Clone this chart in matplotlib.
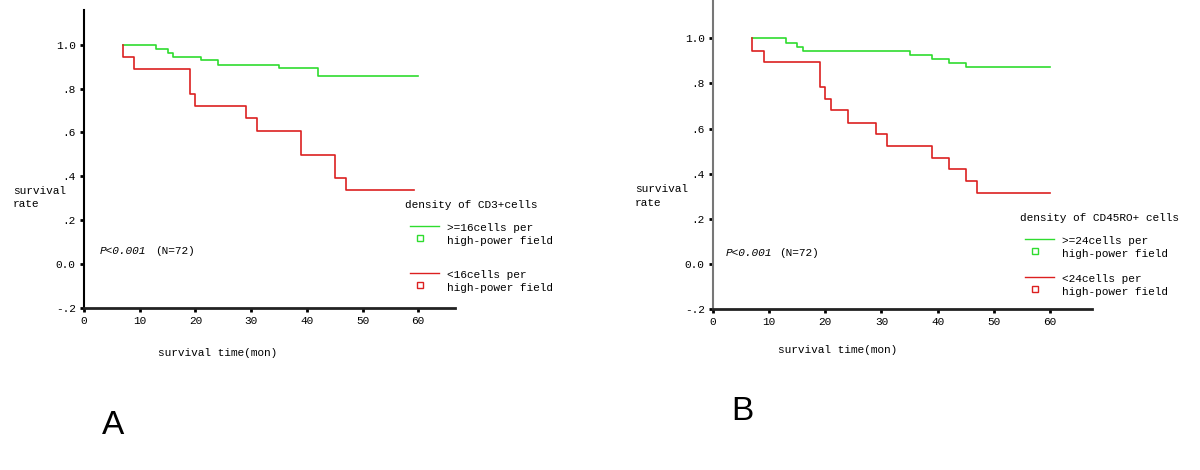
import matplotlib
matplotlib.use("Agg")
import matplotlib.pyplot as plt
from matplotlib.lines import Line2D

W, H = 1200, 470

# panel A - density of CD3+ cells (time in months, survival rate)
a_hi_t = [7, 13, 15, 16, 21, 24, 35, 42, 60]
a_hi_s = [1.0, 0.979, 0.964, 0.942, 0.929, 0.909, 0.892, 0.856, 0.856]
a_lo_t = [7, 7, 9, 19, 20, 29, 31, 39, 45, 47, 59.3]
a_lo_s = [1.0, 0.942, 0.888, 0.774, 0.719, 0.664, 0.606, 0.496, 0.392, 0.336, 0.336]

# panel B - density of CD45RO+ cells
b_hi_t = [7, 13, 15, 16, 35, 39, 42, 45, 60]
b_hi_s = [1.0, 0.98, 0.963, 0.945, 0.924, 0.908, 0.889, 0.872, 0.872]
b_lo_t = [7, 7, 9, 19, 20, 21, 24, 29, 31, 39, 42, 45, 47, 60]
b_lo_s = [1.0, 0.944, 0.893, 0.784, 0.733, 0.684, 0.625, 0.576, 0.524, 0.469, 0.42, 0.369, 0.314, 0.314]

yticks = [-0.2, 0.0, 0.2, 0.4, 0.6, 0.8, 1.0]
ytick_labels = ["-.2", "0.0", ".2", ".4", ".6", ".8", "1.0"]
xticks = [0, 10, 20, 30, 40, 50, 60]

GREEN = "#2fdc2f"
RED = "#dc2020"

plt.rcParams["font.family"] = ["Liberation Mono", "DejaVu Sans Mono"]
plt.rcParams["font.size"] = 8

fig = plt.figure(figsize=(W / 100, H / 100), dpi=100)


def px(x, y):
    return x / W, 1 - y / H


def make_axes(left, right, top, bottom, xmax, ymax, spine_col):
    ax = fig.add_axes([left / W, 1 - bottom / H, (right - left) / W, (bottom - top) / H])
    ax.set_xlim(0, xmax)
    ax.set_ylim(-0.2, ymax)
    for s in ["top", "right"]:
        ax.spines[s].set_visible(False)
    ax.spines["left"].set_color(spine_col)
    ax.spines["left"].set_linewidth(1.5)
    ax.spines["bottom"].set_color("#222222")
    ax.spines["bottom"].set_linewidth(2)
    ax.set_xticks(xticks)
    ax.set_yticks(yticks)
    ax.set_yticklabels(ytick_labels)
    ax.tick_params(direction="out", length=3, width=2, pad=3, labelsize=8)
    ax.patch.set_alpha(0)
    return ax


def legend(x, y, title, hi_lab, lo_lab, gap):
    fig.text(*px(x, y), title, va="center")
    for dy, col, lab in [(0, GREEN, hi_lab), (gap, RED, lo_lab)]:
        ly = y + 21 + dy
        fig.add_artist(Line2D([(x + 5) / W, (x + 34) / W], [1 - ly / H] * 2, color=col, lw=1))
        fig.add_artist(Line2D([(x + 15) / W], [1 - (ly + 12) / H], marker="s", ms=4,
                              mfc="none", mec=col, mew=1, ls="none"))
        fig.text(*px(x + 42, ly + 2), lab, va="center")
        fig.text(*px(x + 42, ly + 15), "high-power field", va="center")


# ---- panel A
ax1 = make_axes(84, 455, 10, 308, 66.6, 1.158, "black")
ax1.step(a_hi_t, a_hi_s, where="post", color=GREEN, lw=1.2)
ax1.step(a_lo_t, a_lo_s, where="post", color=RED, lw=1.2)
fig.text(*px(13, 191), "survival", va="center")
fig.text(*px(13, 204), "rate", va="center")
fig.text(*px(100, 251), "P<0.001", style="italic", va="center")
fig.text(*px(155, 251), "(N=72)", va="center")
fig.text(*px(158, 353), "survival time(mon)", va="center")
legend(405, 205, "density of CD3+cells", ">=16cells per", "<16cells per", 47)
fig.text(*px(102, 425), "A", family="Liberation Sans", fontsize=24, va="center")

# ---- panel B
ax2 = make_axes(713, 1092, 0, 309, 67.5, 1.17, "#777777")
ax2.step(b_hi_t, b_hi_s, where="post", color=GREEN, lw=1.2)
ax2.step(b_lo_t, b_lo_s, where="post", color=RED, lw=1.2)
fig.text(*px(635, 189), "survival", va="center")
fig.text(*px(635, 203), "rate", va="center")
fig.text(*px(726, 253), "P<0.001", style="italic", va="center")
fig.text(*px(779, 253), "(N=72)", va="center")
fig.text(*px(778, 350), "survival time(mon)", va="center")
legend(1020, 218, "density of CD45RO+ cells", ">=24cells per", "<24cells per", 38)
fig.text(*px(731, 412), "B", family="Liberation Sans", fontsize=24, va="center")

fig.savefig("out.png", dpi=100)
